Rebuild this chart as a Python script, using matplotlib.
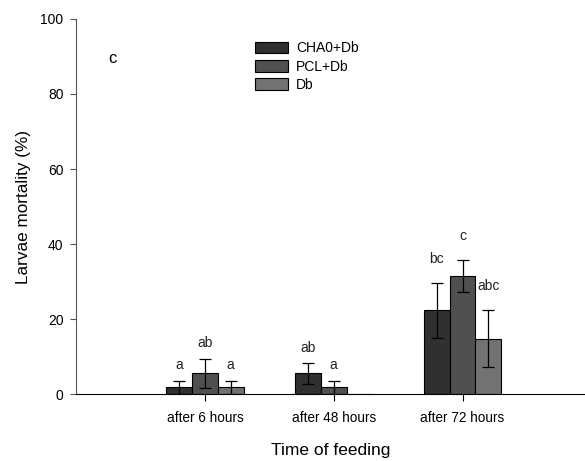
import numpy as np
import matplotlib
matplotlib.use('Agg')
from matplotlib import pyplot as plt

plt.rcParams['font.family'] = ['Liberation Sans', 'DejaVu Sans']

# data
times = ['after 6 hours', 'after 48 hours', 'after 72 hours']
series = ['CHA0+Db', 'PCL+Db', 'Db']
cha0 = [1.8, 5.5, 22.3]
pcl = [5.5, 1.8, 31.5]
db = [1.8, 0.0, 14.8]
cha0_err = [1.8, 2.8, 7.4]
pcl_err = [3.9, 1.8, 4.3]
db_err = [1.8, 0.0, 7.6]
cha0_sig = ['a', 'ab', 'bc']
pcl_sig = ['ab', 'a', 'c']
db_sig = ['a', '', 'abc']

colors = ['#303030', '#505050', '#727272']
label_pad = [11, 11, 17]  # points above the error bar, per time group

fig = plt.figure(figsize=(5.85, 4.61), dpi=100)
ax = fig.add_axes([0.130, 0.1453, 0.870, 0.8135])

x = np.arange(1, len(times) + 1)
w = 0.2
means = [cha0, pcl, db]
errs = [cha0_err, pcl_err, db_err]
sigs = [cha0_sig, pcl_sig, db_sig]

for i in range(3):
    xs = x + (i - 1) * w
    ax.bar(xs, means[i], w, color=colors[i], edgecolor='black', linewidth=0.8,
           label=series[i], zorder=2)
    for j in range(len(times)):
        if means[i][j] > 0:
            ax.errorbar(xs[j], means[i][j], yerr=errs[i][j], fmt='none',
                        ecolor='black', elinewidth=0.9, capsize=4, capthick=0.9, zorder=3)
        if sigs[i][j]:
            ax.annotate(sigs[i][j], (xs[j], means[i][j] + errs[i][j]),
                        xytext=(0, label_pad[j]), textcoords='offset points',
                        ha='center', va='center', fontsize=10, color='#222222')

ax.set_xlim(0, 3.95)
ax.set_ylim(0, 100)
ax.set_yticks([0, 20, 40, 60, 80, 100])
ax.set_xticks(x)
ax.set_xticklabels(times)
ax.spines['top'].set_visible(False)
ax.spines['right'].set_visible(False)
ax.spines['left'].set_color('#555555')
ax.tick_params(axis='y', length=4, pad=5, labelsize=10, color='#555555')
ax.tick_params(axis='x', length=5, pad=7, labelsize=9.8)

ax.set_ylabel('Larvae mortality (%)', fontsize=12.3, labelpad=7)
ax.set_xlabel('Time of feeding', fontsize=12.5, labelpad=13)

ax.text(0.28, 89.5, 'c', fontsize=12, ha='center', va='center')

ax.legend(loc='upper left', bbox_to_anchor=(0.34, 0.955), frameon=False,
          fontsize=10, handlelength=2.4, handleheight=0.9, labelspacing=0.3,
          handletextpad=0.6, borderaxespad=0)

plt.savefig('out.png', dpi=100)
